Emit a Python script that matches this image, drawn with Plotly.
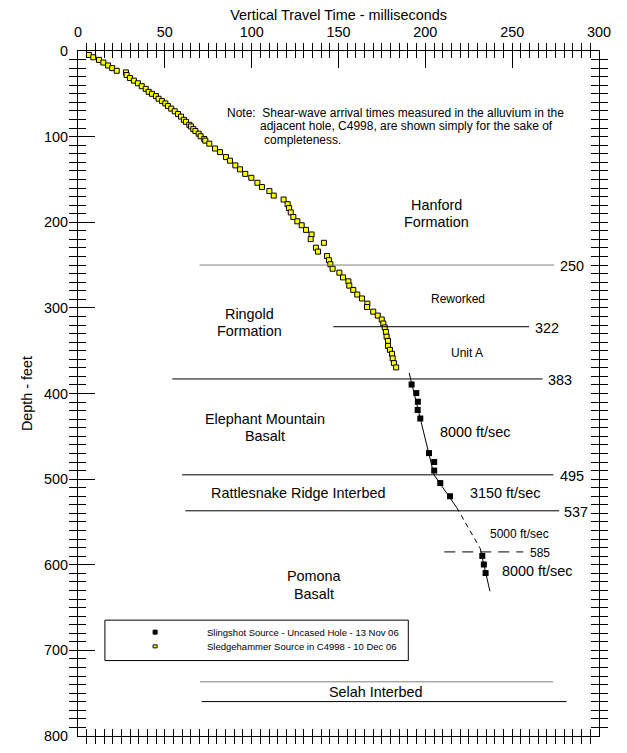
import plotly.graph_objects as go

FONT = "Arial, Liberation Sans, sans-serif"

# Sledgehammer source in C4998 (yellow) - travel time (ms), depth (ft)
sledge_time = [6.3, 8.8, 12.1, 14.6, 17.3, 19.7, 22.3, 27.6, 28.0, 29.9, 32.2, 34.5, 36.7, 39.0,
               40.7, 42.6, 44.9, 46.4, 48.4, 50.3, 51.8, 53.7, 55.7, 57.6, 59.3, 61.0, 62.2, 64.1,
               65.1, 66.4, 67.6, 69.5, 70.6, 72.7, 73.3, 75.6, 78.9, 81.8, 85.2, 87.5, 90.6, 93.3,
               96.3, 99.8, 103.3, 105.9, 110.2, 112.7, 118.4, 120.7, 121.5, 122.5, 124.0, 126.3,
               128.8, 131.3, 134.5, 134.0, 141.6, 137.0, 138.2, 143.4, 144.5, 145.3, 146.6, 150.5,
               152.6, 155.7, 156.2, 158.5, 160.8, 163.5, 166.6, 166.4, 170.0, 172.6, 174.9, 175.8,
               176.6, 177.3, 177.7, 178.5, 178.5, 179.6, 180.8, 181.2, 181.9, 183.2]
sledge_depth = [4.6, 7.3, 10.4, 13.5, 16.9, 20.0, 23.1, 25.0, 28.0, 31.6, 34.6, 37.7, 41.1, 44.2,
                47.7, 50.0, 52.7, 55.8, 58.5, 61.2, 64.3, 67.3, 70.4, 73.6, 76.6, 80.4, 82.7, 86.2,
                88.1, 91.2, 93.5, 96.6, 99.6, 102.7, 104.7, 108.2, 113.9, 118.1, 123.9, 128.1, 133.6,
                138.2, 143.5, 148.1, 153.9, 158.9, 163.6, 168.9, 173.5, 178.9, 183.5, 188.5, 193.9,
                198.9, 203.5, 208.9, 214.3, 219.7, 224.0, 229.7, 234.3, 239.4, 244.3, 249.0, 254.3,
                258.9, 264.4, 269.0, 274.0, 279.0, 284.4, 289.0, 295.1, 299.0, 304.4, 309.0, 313.6,
                318.2, 322.8, 328.2, 333.6, 338.6, 344.4, 349.0, 353.6, 359.0, 364.5, 369.5]

# Slingshot source - uncased hole (black)
sling_time = [192.1, 194.8, 195.7, 195.6, 197.1, 202.1, 205.1, 205.1, 208.6, 214.2, 232.8, 233.7, 234.7]
sling_depth = [389.5, 399.5, 409.6, 419.2, 429.2, 469.6, 480.0, 490.0, 504.6, 520.0, 589.7, 599.7, 609.7]

# Velocity fit lines
fit_solid1_time = [190.7, 205.0, 218.0]
fit_solid1_depth = [376.0, 495.0, 533.0]
fit_dash_time = [218.0, 231.6]
fit_dash_depth = [533.0, 581.0]
fit_solid2_time = [231.6, 237.2]
fit_solid2_depth = [581.0, 631.0]

# Axis ranges / ticks
time_range = [0, 300]
depth_range = [800, 0]
time_major, time_minor = 50, 5
depth_major, depth_minor = 100, 10

# Formation contacts
contact_depth = [250, 322, 383, 495, 537]
contact_start = [70.0, 147.0, 54.3, 59.9, 61.8]
contact_end = [274.1, 259.7, 267.6, 273.7, 277.1]
contact_color = ["#7f7f7f", "black", "black", "black", "black"]
contact_label_x = [276.2, 262.2, 269.5, 276.2, 278.5]

dash_contact_depth = 585
dash_contact_start, dash_contact_end = 210.9, 256.4

selah_depth = [736.7, 759.8]
selah_start = [70.2, 71.2]
selah_end = [273.6, 281.3]
selah_color = ["#7f7f7f", "black"]

fig = go.Figure()

fig.add_trace(go.Scatter(x=fit_solid1_time, y=fit_solid1_depth, mode="lines", xaxis="x2", yaxis="y",
                         line=dict(color="black", width=1), showlegend=False, hoverinfo="skip"))
fig.add_trace(go.Scatter(x=fit_dash_time, y=fit_dash_depth, mode="lines", xaxis="x3", yaxis="y",
                         line=dict(color="black", width=1, dash="5px,4px"), showlegend=False, hoverinfo="skip"))
fig.add_trace(go.Scatter(x=fit_solid2_time, y=fit_solid2_depth, mode="lines", xaxis="x", yaxis="y3",
                         line=dict(color="black", width=1), showlegend=False, hoverinfo="skip"))

fig.add_trace(go.Scatter(x=sledge_time, y=sledge_depth, mode="markers", xaxis="x", yaxis="y",
                         name="Sledgehammer Source in C4998 - 10 Dec 06",
                         marker=dict(symbol="square", size=5, color="#ffff00", line=dict(color="black", width=1)),
                         showlegend=False))
fig.add_trace(go.Scatter(x=sling_time, y=sling_depth, mode="markers", xaxis="x", yaxis="y2",
                         name="Slingshot Source - Uncased Hole - 13 Nov 06",
                         marker=dict(symbol="square", size=6, color="black", line=dict(color="black", width=0)),
                         showlegend=False))

shapes = []
annotations = []

def txt(x, y, text, size=14.4, xanchor="center"):
    annotations.append(dict(x=x, y=y, xref="x", yref="y", text=text, showarrow=False,
                            xanchor=xanchor, yanchor="middle",
                            font=dict(family=FONT, size=size, color="black")))

for d, s, e, c, lx in zip(contact_depth, contact_start, contact_end, contact_color, contact_label_x):
    shapes.append(dict(type="line", xref="x", yref="y", x0=s, x1=e, y0=d, y1=d,
                       line=dict(color=c, width=1)))
    txt(lx, d + 1, str(d), xanchor="left")

shapes.append(dict(type="line", xref="x", yref="y", x0=dash_contact_start, x1=dash_contact_end,
                   y0=dash_contact_depth, y1=dash_contact_depth,
                   line=dict(color="black", width=1, dash="11px,7px")))
txt(258.9, dash_contact_depth + 1.5, str(dash_contact_depth), size=12, xanchor="left")

for d, s, e, c in zip(selah_depth, selah_start, selah_end, selah_color):
    shapes.append(dict(type="line", xref="x", yref="y", x0=s, x1=e, y0=d, y1=d,
                       line=dict(color=c, width=1)))
txt(171.6, 748.5, "Selah Interbed")

# Note
txt(84.6, 72.7, "Note:\u00a0 Shear-wave arrival times measured in the alluvium in the", size=12, xanchor="left")
txt(103.8, 87.4, "adjacent hole, C4998, are shown simply for the sake of", size=12, xanchor="left")
txt(105.8, 103.9, "completeness.", size=12, xanchor="left")

# Unit labels
txt(206.5, 180.4, "Hanford")
txt(206.5, 199.7, "Formation")
txt(219.0, 290.0, "Reworked", size=12)
txt(224.0, 352.5, "Unit A", size=12)
txt(98.6, 307.5, "Ringold")
txt(98.6, 326.8, "Formation")
txt(107.9, 430.0, "Elephant Mountain")
txt(107.9, 449.5, "Basalt")
txt(126.7, 516.5, "Rattlesnake Ridge Interbed")
txt(135.9, 613.5, "Pomona")
txt(135.9, 634.0, "Basalt")

# Velocity labels
txt(207.5, 445.0, "8000 ft/sec", xanchor="left")
txt(224.4, 515.8, "3150 ft/sec", xanchor="left")
txt(236.3, 563.5, "5000 ft/sec", size=12, xanchor="left")
txt(242.8, 607.7, "8000 ft/sec", xanchor="left")

# Legend box (manual)
shapes.append(dict(type="rect", xref="x", yref="y", x0=15.5, x1=190.2, y0=664.7, y1=711.9,
                   line=dict(color="black", width=1), fillcolor="rgba(0,0,0,0)"))
shapes.append(dict(type="rect", xref="x", yref="y", xsizemode="pixel", ysizemode="pixel",
                   xanchor=44.4, yanchor=678.7, x0=-2, x1=2, y0=-2, y1=2,
                   line=dict(color="black", width=1), fillcolor="black"))
shapes.append(dict(type="rect", xref="x", yref="y", xsizemode="pixel", ysizemode="pixel",
                   xanchor=44.4, yanchor=695.3, x0=-2, x1=2, y0=-1.5, y1=1.5,
                   line=dict(color="black", width=1), fillcolor="#ffff00"))
txt(73.3, 678.7, "Slingshot Source - Uncased Hole - 13 Nov 06", size=9.5, xanchor="left")
txt(73.3, 695.3, "Sledgehammer Source in C4998 - 10 Dec 06", size=9.5, xanchor="left")

tickfont = dict(family=FONT, size=14.4, color="black")
# frame + minor ticks
minor_axis = dict(showline=True, linecolor="black", linewidth=1, mirror="allticks",
                  ticks="inside", tickwidth=1, tickcolor="black",
                  showgrid=False, zeroline=False, showticklabels=False, tick0=0)
# long major ticks (one axis per side)
major_axis = dict(showline=False, mirror=False, ticks="inside", ticklen=17, tickwidth=1,
                  tickcolor="black", showgrid=False, zeroline=False, showticklabels=False, tick0=0)
# labels only (transparent outside ticks push labels away from the frame)
label_axis = dict(showline=False, ticks="outside", tickcolor="rgba(0,0,0,0)", tickwidth=1,
                  showgrid=False, zeroline=False, showticklabels=True, tickfont=tickfont, tick0=0)

fig.update_layout(
    xaxis=dict(range=time_range, side="top", dtick=time_minor, ticklen=7, anchor="y", **minor_axis),
    yaxis=dict(range=depth_range, dtick=depth_minor, ticklen=8, anchor="x", **minor_axis),
    xaxis2=dict(range=time_range, side="top", overlaying="x", anchor="y", dtick=time_major, ticklen=7,
                title=dict(text="Vertical Travel Time - milliseconds", standoff=0,
                           font=dict(family=FONT, size=14.4, color="black")),
                **label_axis),
    yaxis2=dict(range=depth_range, side="left", overlaying="y", anchor="x", dtick=depth_major, ticklen=6,
                title=dict(text="Depth - feet", standoff=8,
                           font=dict(family=FONT, size=14.4, color="black")),
                **label_axis),
    xaxis3=dict(range=time_range, side="top", overlaying="x", anchor="y", dtick=time_major, **major_axis),
    yaxis3=dict(range=depth_range, side="left", overlaying="y", anchor="x", dtick=depth_major, **major_axis),
    xaxis4=dict(range=time_range, side="bottom", overlaying="x", anchor="y", dtick=time_major, **major_axis),
    yaxis4=dict(range=depth_range, side="right", overlaying="y", anchor="x", dtick=depth_major, **major_axis),
)

fig.update_layout(width=627, height=753, margin=dict(l=78, r=28, t=51, b=9),
                  plot_bgcolor="white", paper_bgcolor="white",
                  shapes=shapes, annotations=annotations, showlegend=False,
                  font=dict(family=FONT, color="black"))

fig.write_html("out.html")
